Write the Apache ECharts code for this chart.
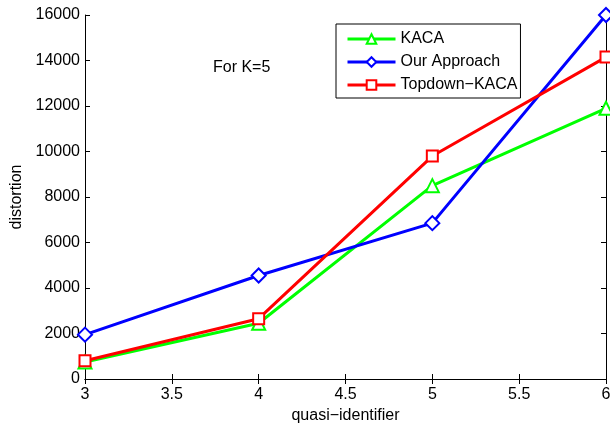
<!DOCTYPE html>
<html><head><meta charset="utf-8">
<script src="https://cdn.jsdelivr.net/npm/echarts@6/dist/echarts.min.js"></script>
<style>html,body{margin:0;padding:0;background:#fff}#c{width:610px;height:427px}</style>
</head><body><div id="c"></div>
<script>
var xValues = [3, 4, 5, 6];
var kaca = [750, 2450, 8500, 11900];
var ourApproach = [1950, 4550, 6850, 16000];
var topdownKaca = [800, 2650, 9800, 14150];
var seriesNames = ['KACA', 'Our Approach', 'Topdown\u2212KACA'];
var xTicks = [3, 3.5, 4, 4.5, 5, 5.5, 6];
var yTicks = [0, 2000, 4000, 6000, 8000, 10000, 12000, 14000, 16000];

function pairs(v){ return xValues.map(function(x,i){ return [x, v[i]]; }); }
var FONT = 'Liberation Sans';
var FS = 16;
var chart = echarts.init(document.getElementById('c'), null, {renderer:'canvas'});
var axisCommon = {
  axisLine:{show:true, lineStyle:{color:'#000', width:1}},
  axisTick:{show:true, inside:true, length:5, lineStyle:{color:'#000'}},
  splitLine:{show:false}
};
function mk(name, data, color, symbol, size){
  return {name:name, type:'line', data:pairs(data), symbol:symbol, symbolSize:size,
    showAllSymbol:true,
    lineStyle:{color:color, width:3}, itemStyle:{color:color, borderColor:color, borderWidth:2},
    emphasis:{disabled:true}, animation:false, z:2};
}
chart.setOption({
  animation:false,
  backgroundColor:'#fff',
  grid:{left:85, top:15, right:4, bottom:48, containLabel:false, outerBoundsMode:'none'},
  legend:{
    orient:'vertical', left:336, top:24,
    data:seriesNames,
    backgroundColor:'#fff', borderColor:'#000', borderWidth:1,
    padding:[7, 3, 5, 10], itemWidth:48, itemHeight:12, itemGap:7,
    lineStyle:{width:3},
    textStyle:{fontFamily:FONT, fontSize:FS, color:'#000', lineHeight:16},
    selectedMode:false
  },
  xAxis:[
    Object.assign({type:'value', min:3, max:6, interval:0.5,
      name:'quasi\u2212identifier', nameLocation:'middle', nameGap:27,
      nameTextStyle:{fontFamily:FONT, fontSize:FS, color:'#000'},
      axisLabel:{fontFamily:FONT, fontSize:FS, color:'#000', margin:8,
        formatter:function(v){ return String(v); }}}, axisCommon),
    Object.assign({type:'value', min:3, max:6, interval:0.5, position:'top',
      axisLabel:{show:false}}, axisCommon)
  ],
  yAxis:[
    Object.assign({type:'value', min:0, max:16000, interval:2000,
      name:'distortion', nameLocation:'middle', nameGap:53, nameRotate:90,
      nameTextStyle:{fontFamily:FONT, fontSize:FS, color:'#000'},
      axisLabel:{fontFamily:FONT, fontSize:FS, color:'#000', margin:5,
        formatter:function(v){ return String(v); }}}, axisCommon),
    Object.assign({type:'value', min:0, max:16000, interval:2000, position:'right',
      axisLabel:{show:false}}, axisCommon)
  ],
  graphic:[{type:'text', left:213, top:60, style:{text:'For K=5', font:FS + 'px "Liberation Sans"', fill:'#000'}}],
  series:[
    mk(seriesNames[0], kaca, '#00ff00', 'emptyTriangle', 13),
    mk(seriesNames[1], ourApproach, '#0000ff', 'emptyDiamond', 14),
    mk(seriesNames[2], topdownKaca, '#ff0000', 'emptyRect', 11)
  ]
});
</script></body></html>
